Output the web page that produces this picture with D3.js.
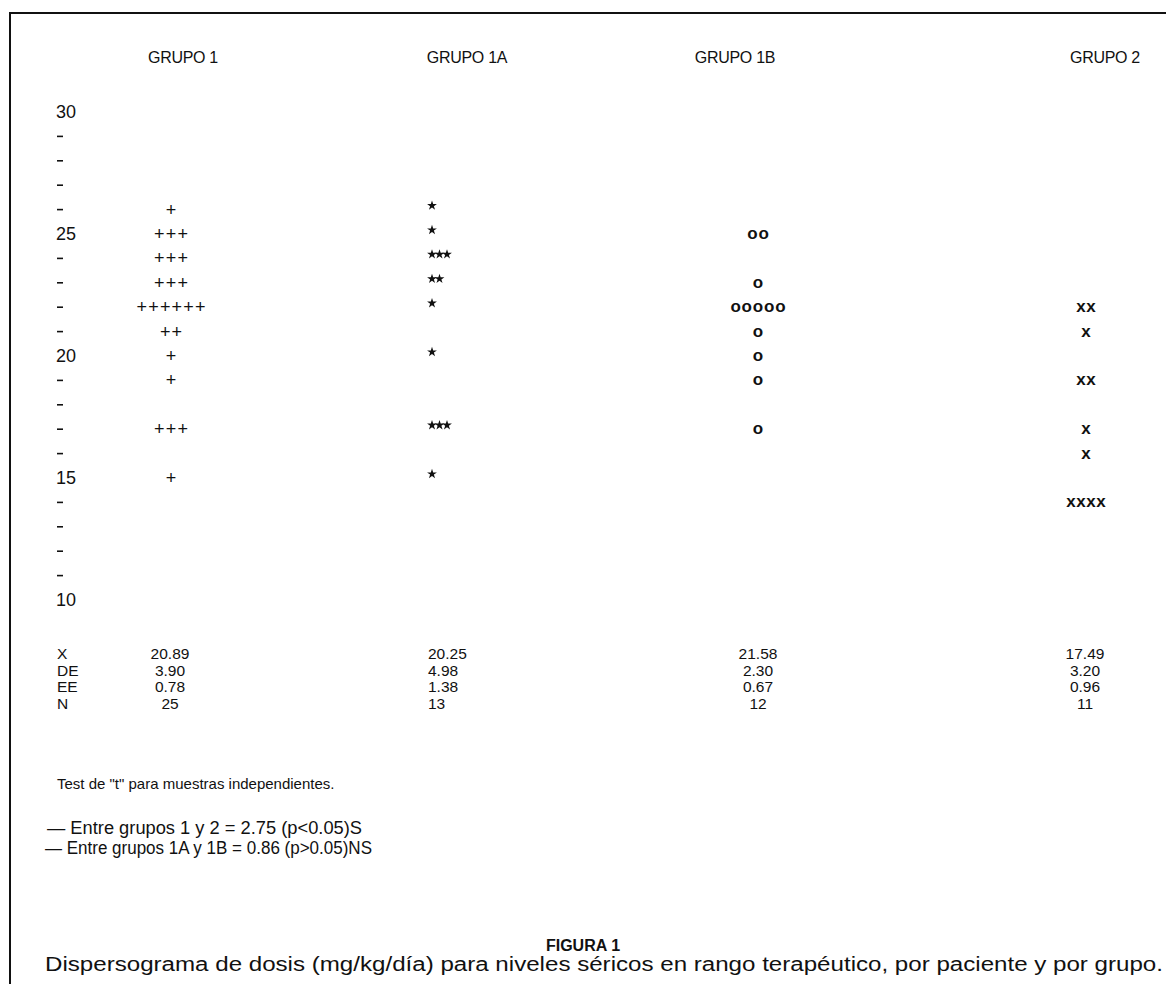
<!DOCTYPE html>
<html>
<head>
<meta charset="utf-8">
<script src="https://cdn.jsdelivr.net/npm/d3@7"></script>
<style>
  html, body { margin: 0; padding: 0; background: #fff; }
  svg { display: block; font-family: "Liberation Sans", Arial, sans-serif; }
</style>
</head>
<body>
<svg id="chart" width="1166" height="984"></svg>
<script>
// ---------- DATA ----------
const groups = ["GRUPO 1", "GRUPO 1A", "GRUPO 1B", "GRUPO 2"];
const markers = ["+", "*", "o", "x"];
// individual patient doses (mg/kg/día)
const grupo1 = [26, 25, 25, 25, 24, 24, 24, 23, 23, 23, 22, 22, 22, 22, 22, 22, 21, 21, 20, 19, 17, 17, 17, 15];
const grupo1A = [26, 25, 24, 24, 24, 23, 23, 22, 20, 17, 17, 17, 15];
const grupo1B = [25, 25, 23, 22, 22, 22, 22, 22, 21, 20, 19, 17];
const grupo2 = [22, 22, 21, 19, 19, 17, 16, 14, 14, 14, 14];
const yTicks = d3.range(10, 31);
const statLabels = ["X", "DE", "EE", "N"];
const statX = ["20.89", "20.25", "21.58", "17.49"];
const statDE = ["3.90", "4.98", "2.30", "3.20"];
const statEE = ["0.78", "1.38", "0.67", "0.96"];
const statN = ["25", "13", "12", "11"];
const testTitle = 'Test de "t" para muestras independientes.';
const testLines = ["— Entre grupos 1 y 2 = 2.75 (p<0.05)S", "— Entre grupos 1A y 1B = 0.86 (p>0.05)NS"];
const figTitle = "FIGURA 1";
const figCaption = "Dispersograma de dosis (mg/kg/día) para niveles séricos en rango terapéutico, por paciente y por grupo.";

// ---------- LAYOUT ----------
const svg = d3.select("#chart");
const ink = "#111";
const y = d3.scaleLinear().domain([10, 30]).range([600, 112]);
const headerX = d3.scaleOrdinal().domain(groups).range([183, 467, 735, 1105]);
const markX = d3.scaleOrdinal().domain(groups).range([171, 429, 758, 1086]);
const markAlign = d3.scaleOrdinal().domain(groups).range(["middle", "start", "middle", "middle"]);
const markStep = d3.scaleOrdinal().domain(groups).range([11.7, 7.5, 11.2, 10]);
const statPosX = d3.scaleOrdinal().domain(groups).range([170, 428, 758, 1085]);

// frame
svg.append("line").attr("x1", 10).attr("x2", 1166).attr("y1", 13).attr("y2", 13)
  .attr("stroke", ink).attr("stroke-width", 2);
svg.append("line").attr("x1", 10).attr("x2", 10).attr("y1", 12).attr("y2", 984)
  .attr("stroke", ink).attr("stroke-width", 2);

// headers
svg.selectAll("text.hdr").data(groups).join("text").attr("class", "hdr")
  .attr("x", d => headerX(d)).attr("y", 63).attr("text-anchor", "middle")
  .attr("font-size", 16).attr("letter-spacing", -0.3).attr("fill", ink).text(d => d);

// y axis (text ticks)
const ax = svg.append("g");
yTicks.forEach(v => {
  if (v % 5 === 0) {
    ax.append("text").attr("x", 56).attr("y", y(v) + 6).attr("font-size", 18)
      .attr("fill", ink).text(v);
  } else {
    ax.append("line").attr("x1", 57).attr("x2", 63).attr("y1", y(v)).attr("y2", y(v))
      .attr("stroke", ink).attr("stroke-width", 1.6);
  }
});

// marks
const series = [grupo1, grupo1A, grupo1B, grupo2];
series.forEach((vals, gi) => {
  const g = groups[gi];
  const rolled = d3.rollups(vals, v => v.length, d => d);
  const pts = [];
  rolled.forEach(([v, n]) => {
    for (let i = 0; i < n; i++) {
      let cx;
      if (markAlign(g) === "middle") cx = markX(g) + (i - (n - 1) / 2) * markStep(g);
      else cx = markX(g) + 3 + i * markStep(g);
      pts.push({ v, cx });
    }
  });
  const m = markers[gi];
  if (m === "*") {
    svg.append("g").selectAll("path").data(pts).join("path")
      .attr("d", d3.symbol().type(d3.symbolStar).size(30))
      .attr("transform", d => `translate(${d.cx},${y(d.v) - 4})`)
      .attr("fill", ink);
  } else {
    const fs = m === "+" ? 18 : 17;
    const dy = m === "+" ? 6 : 5;
    svg.append("g").selectAll("text").data(pts).join("text")
      .attr("x", d => d.cx).attr("y", d => y(d.v) + dy)
      .attr("text-anchor", "middle").attr("font-size", fs)
      .attr("font-weight", m === "+" ? "normal" : "bold")
      .attr("fill", ink).text(m);
  }
});

// stats table
const statRows = [statX, statDE, statEE, statN];
const statY = [659, 676, 692, 709];
statLabels.forEach((lab, ri) => {
  svg.append("text").attr("x", 57).attr("y", statY[ri]).attr("font-size", 15.5)
    .attr("fill", ink).text(lab);
  groups.forEach((g, gi) => {
    svg.append("text").attr("x", statPosX(g)).attr("y", statY[ri])
      .attr("text-anchor", gi === 1 ? "start" : "middle")
      .attr("font-size", 15.5).attr("fill", ink).text(statRows[ri][gi]);
  });
});

// test text
svg.append("text").attr("x", 57).attr("y", 789).attr("font-size", 15).attr("fill", ink).text(testTitle);
const testLen = [315, 327];
const testStart = [47, 45];
testLines.forEach((t, i) => {
  svg.append("text").attr("x", testStart[i]).attr("y", 834 + i * 20).attr("font-size", 17.5)
    .attr("textLength", testLen[i]).attr("lengthAdjust", "spacingAndGlyphs")
    .attr("fill", ink).text(t);
});

// figure title & caption
svg.append("text").attr("x", 583).attr("y", 951).attr("text-anchor", "middle")
  .attr("font-size", 16).attr("font-weight", "bold").attr("fill", ink).text(figTitle);
svg.append("text").attr("x", 45).attr("y", 971).attr("font-size", 20)
  .attr("textLength", 1118).attr("lengthAdjust", "spacingAndGlyphs")
  .attr("fill", ink).text(figCaption);
</script>
</body>
</html>
